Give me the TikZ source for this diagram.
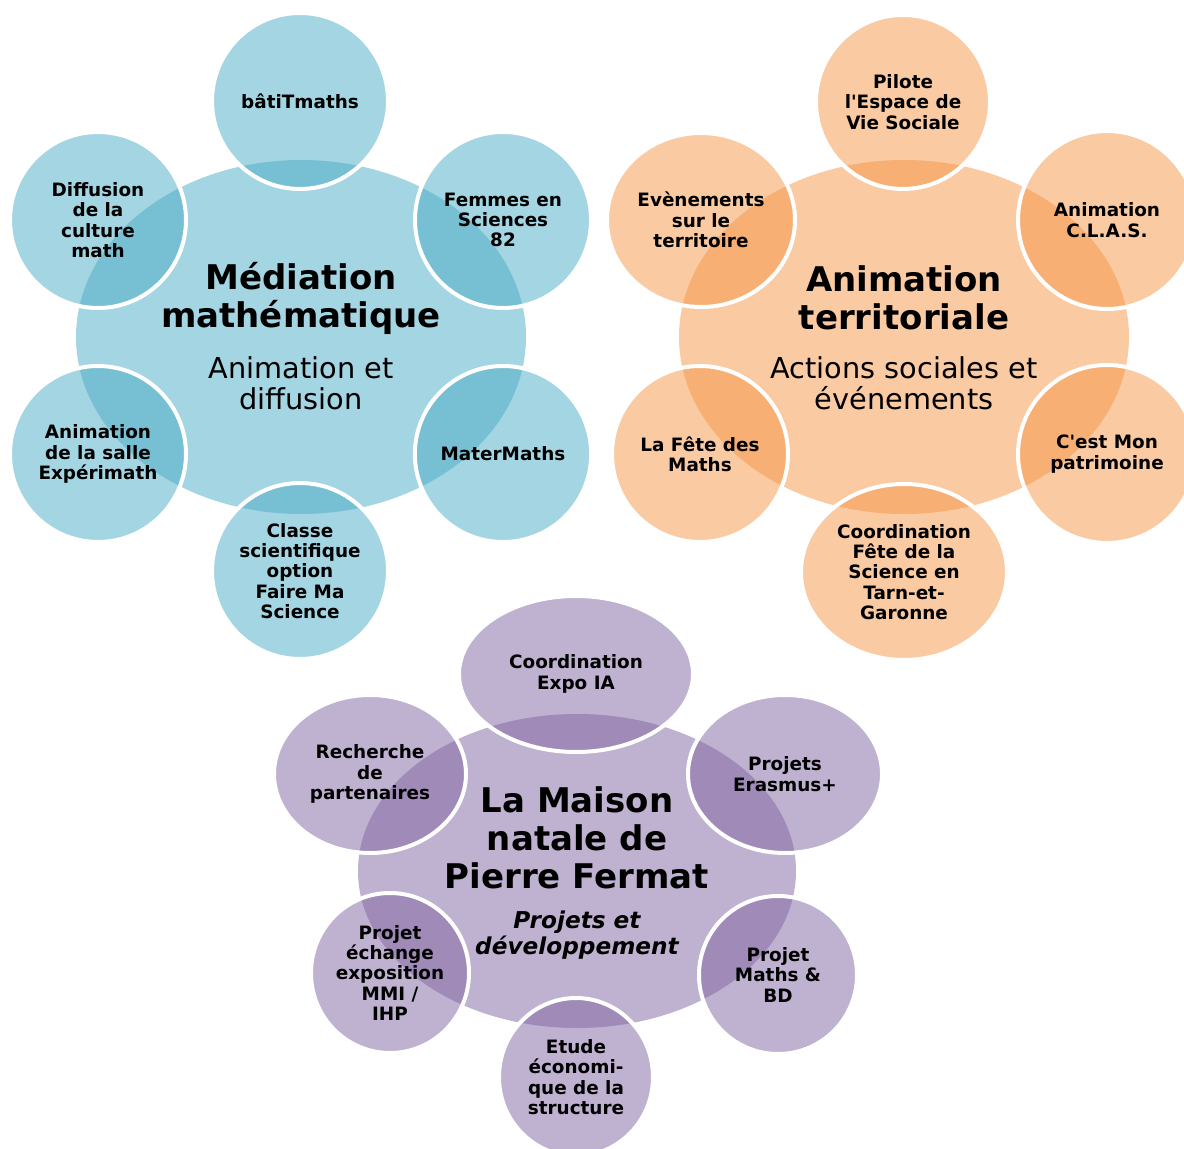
\documentclass[tikz,border=0pt]{standalone}
\usepackage{fontspec}
\setmainfont{DejaVu Sans}
\usetikzlibrary{shapes.geometric}
\definecolor{medblue}{HTML}{4BACC6}
\definecolor{terrorange}{HTML}{F79646}
\definecolor{fermatpurple}{HTML}{8064A2}
\begin{document}
\begin{tikzpicture}[x=0.5pt,y=-0.5pt]
\tikzset{hub/.style = {shape=ellipse,fill opacity=0.5,inner sep=0pt}}
\tikzset{sat/.style = {shape=ellipse,draw=white,line width=2pt,draw opacity=1,fill opacity=0.5,text opacity=1,inner sep=0pt,align=center,font=\bfseries\fontsize{9.2}{10.2}\selectfont}}
\tikzset{hubtitle/.style = {align=center,font=\bfseries\fontsize{17}{19}\selectfont}}
\tikzset{hubsub/.style = {align=center,font=\fontsize{14.4}{15.5}\selectfont}}
\useasboundingbox[fill=white] (0,0) rectangle (1184,1149);
% mediation
\node[hub,fill=medblue,minimum width=225pt,minimum height=177pt] (med) at (301,337) {};
\node[hubtitle] (medt) at (301,298) {Médiation\\mathématique};
\node[hubsub] (meds) at (301,383) {Animation et\\diffusion};
\node[sat,fill=medblue,minimum size=88pt] (bati) at (300,101) {bâtiTmaths};
\node[sat,fill=medblue,minimum size=88pt] (femmes) at (503,220) {Femmes en\\Sciences\\82};
\node[sat,fill=medblue,minimum size=88pt] (mater) at (503,454) {MaterMaths};
\node[sat,fill=medblue,minimum size=88pt] (classe) at (300,571) {Classe\\scientifique\\option\\Faire Ma\\Science};
\node[sat,fill=medblue,minimum size=88pt] (salle) at (98,454) {Animation\\de la salle\\Expérimath};
\node[sat,fill=medblue,minimum size=88pt] (diff) at (98,220) {Diffusion\\de la\\culture\\math};
% animation territoriale
\node[hub,fill=terrorange,minimum width=225pt,minimum height=177pt] (terr) at (904,337) {};
\node[hubtitle] (terrt) at (904,298) {Animation\\territoriale};
\node[hubsub] (terrs) at (904,383) {Actions sociales et\\événements};
\node[sat,fill=terrorange,minimum size=87pt] (pilote) at (903,102) {Pilote\\l\textquotesingle Espace de\\Vie Sociale};
\node[sat,fill=terrorange,minimum size=89pt] (clas) at (1107,220) {Animation\\C.L.A.S.};
\node[sat,fill=terrorange,minimum size=89pt] (patri) at (1107,454) {C\textquotesingle est Mon\\patrimoine};
\node[sat,fill=terrorange,minimum width=103pt,minimum height=88pt] (fete) at (904,572) {Coordination\\Fête de la\\Science en\\Tarn-et-\\Garonne};
\node[sat,fill=terrorange,minimum size=88pt] (fmaths) at (700,454) {La Fête des\\Maths};
\node[sat,fill=terrorange,minimum width=94pt,minimum height=87pt] (event) at (701,220) {Evènements\\sur le\\territoire};
% maison natale
\node[hub,fill=fermatpurple,minimum width=219pt,minimum height=157pt] (maison) at (577,871) {};
\node[hubtitle] (maisont) at (577,838) {La Maison\\natale de\\Pierre Fermat};
\node[align=center,font=\bfseries\itshape\fontsize{11.6}{13}\selectfont] (maisons) at (577,935) {Projets et\\développement};
\node[sat,fill=fermatpurple,minimum width=117pt,minimum height=78pt] (expo) at (576,674) {Coordination\\Expo IA};
\node[sat,fill=fermatpurple,minimum width=97pt,minimum height=79pt] (erasmus) at (785,774) {Projets\\Erasmus+};
\node[sat,fill=fermatpurple,minimum width=79pt,minimum height=79pt] (bd) at (778,975) {Projet\\Maths \&\\BD};
\node[sat,fill=fermatpurple,minimum width=77pt,minimum height=79pt] (etude) at (576,1077) {Etude\\économi-\\que de la\\structure};
\node[sat,fill=fermatpurple,minimum width=79pt,minimum height=80pt] (echange) at (390,973) {Projet\\échange\\exposition\\MMI /\\IHP};
\node[sat,fill=fermatpurple,minimum width=96pt,minimum height=79pt] (recherche) at (370,774) {Recherche\\de\\partenaires};
\end{tikzpicture}
\end{document}
